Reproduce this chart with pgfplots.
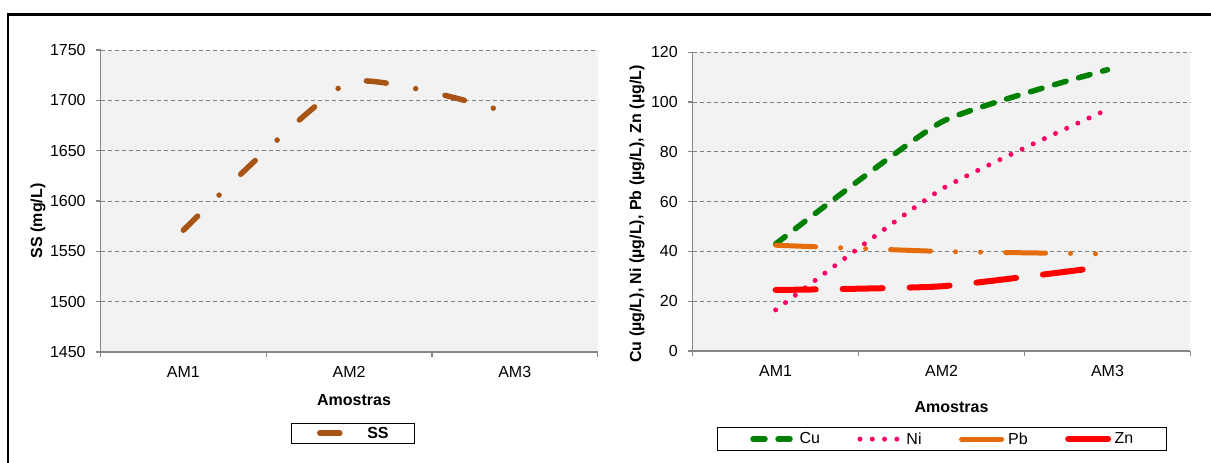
\documentclass[border=0pt]{standalone}
\usepackage{fontspec}
\setmainfont{Liberation Sans}
\usepackage{pgfplots}
\pgfplotsset{compat=1.18}

\definecolor{ssbrown}{RGB}{168,84,20}
\definecolor{cugreen}{RGB}{0,128,0}
\definecolor{nipink}{RGB}{255,0,102}
\definecolor{pborange}{RGB}{228,108,10}
\definecolor{znred}{RGB}{255,0,0}
\definecolor{plotbg}{RGB}{242,242,242}
\definecolor{axgray}{RGB}{134,134,134}
\definecolor{gridgray}{RGB}{128,128,128}

\pgfplotsset{
  excelstyle/.style={
    scale only axis,
    anchor=south west,
    font=\fontsize{16}{19}\selectfont,
    axis background/.style={fill=plotbg},
    axis x line*=bottom, axis y line*=left,
    axis line style={axgray, line width=1.2pt},
    xmin=-0.5, xmax=2.5,
    xtick={-0.5,0.5,1.5,2.5}, xticklabels={,,,},
    extra x ticks={0,1,2},
    extra x tick labels={AM1,AM2,AM3},
    extra x tick style={major tick length=0pt, grid=none,
      xticklabel style={anchor=base, yshift=-26pt}},
    tick align=outside,
    major tick length=5pt,
    tick style={axgray, line width=1.2pt},
    ymajorgrids,
    grid style={gridgray, line width=0.8pt, dash pattern=on 4pt off 3pt},
    /pgf/number format/assume math mode=true,
    /pgf/number format/set thousands separator={},
    yticklabel style={anchor=east, inner sep=0pt, xshift=-9.8pt},
    legend style={draw=black, line width=1pt, fill=white, legend columns=-1,
      nodes={inner sep=0pt}},
    legend cell align=left,
    every axis plot/.append style={smooth, tension=0.3, line cap=round, line join=round},
    clip=false,
  }
}

\begin{document}
\begin{tikzpicture}[x=1pt,y=1pt]
\useasboundingbox (0,0) rectangle (1211,463);
\draw[line width=2.5pt] (8,0) -- (8,448.5) -- (1211,448.5);

% Left chart
\begin{axis}[excelstyle,
  at={(100.6pt,111pt)}, width=497pt, height=302pt,
  ymin=1450, ymax=1750, ytick={1450,1500,...,1750},
  ylabel={\bfseries SS (mg/L)},
  ylabel style={at={(axis description cs:-0.126,0.4338)}, anchor=center},
  xlabel={\bfseries Amostras},
  xlabel style={at={(axis description cs:0.51,-0.1755)}, anchor=base},
  legend style={at={(axis description cs:0.5075,-0.269)}, anchor=center,
    inner xsep=26pt, inner ysep=3.5pt},
  legend image code/.code={\path[draw=none,fill=none] (0pt,-5pt) rectangle (50pt,5pt); \draw[#1] (2.5pt,0pt) -- (22.5pt,0pt);},
]
\addplot[ssbrown, line width=5.5pt, dash pattern=on 20pt off 30pt on 0pt off 30pt]
  coordinates {(0,1571) (1,1718) (2,1686)};
\addlegendentry{\bfseries SS}
\end{axis}

% Right chart
\begin{axis}[excelstyle,
  at={(692.7pt,112pt)}, width=497.7pt, height=298.7pt,
  ymin=0, ymax=120, ytick={0,20,...,120},
  ylabel={\bfseries Cu (µg/L), Ni (µg/L), Pb (µg/L), Zn (µg/L)},
  ylabel style={at={(axis description cs:-0.112,0.4587)}, anchor=center},
  xlabel={\bfseries Amostras},
  xlabel style={at={(axis description cs:0.52,-0.2066)}, anchor=base},
  legend style={at={(axis description cs:0.5005,-0.295)}, anchor=center,
    inner xsep=33.2pt, inner ysep=5pt,
    /tikz/every even column/.append style={column sep=37.5pt}},
  legend image code/.code={\path[draw=none,fill=none] (0pt,-5pt) rectangle (49pt,5pt); \draw[#1] (2.5pt,0pt) -- (42.5pt,0pt);},
]
\addplot[cugreen, line width=5.5pt, dash pattern=on 12pt off 13pt]
  coordinates {(0,43) (1,92) (2,113)};
\addlegendentry{Cu}
\addplot[nipink, line width=5pt, dash pattern=on 0pt off 12.3pt]
  coordinates {(0,16.5) (1,65) (2,97)};
\addlegendentry{Ni}
\addplot[pborange, line width=5pt, dash pattern=on 40pt off 25pt on 0pt off 25pt on 0pt off 25pt]
  coordinates {(0,42.5) (1,40) (2,39)};
\addlegendentry{Pb}
\addplot[znred, line width=6pt, dash pattern=on 40pt off 27pt]
  coordinates {(0,24.5) (1,26) (2,34)};
\addlegendentry{Zn}
\end{axis}
\end{tikzpicture}
\end{document}
